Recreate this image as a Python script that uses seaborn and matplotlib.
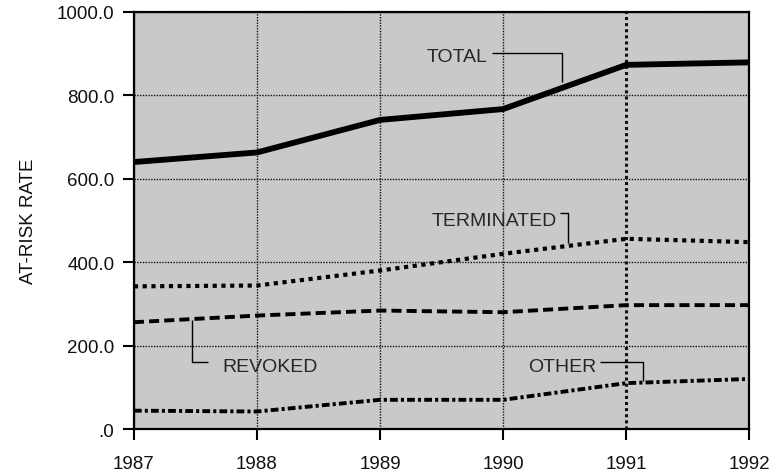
import matplotlib
matplotlib.use("Agg")
import matplotlib.pyplot as plt
import seaborn as sns
import pandas as pd

# At-risk rate by year, per category
years = [1987, 1988, 1989, 1990, 1991, 1992]
total = [640, 663, 741, 767, 873, 879]
terminated = [342, 344, 380, 420, 456, 448]
revoked = [256, 272, 284, 280, 297, 297]
other = [44, 42, 70, 70, 110, 120]

y_ticks = [0, 200, 400, 600, 800, 1000]
y_tick_labels = [".0", "200.0", "400.0", "600.0", "800.0", "1000.0"]

df = pd.DataFrame({
    "year": years * 4,
    "rate": total + terminated + revoked + other,
    "series": ["TOTAL"] * 6 + ["TERMINATED"] * 6 + ["REVOKED"] * 6 + ["OTHER"] * 6,
})

sns.set_theme(style="ticks")
plt.rcParams["font.family"] = ["Liberation Sans", "DejaVu Sans"]

fig = plt.figure(figsize=(7.83, 4.77), dpi=100)
ax = fig.add_axes([0.171, 0.0985, 0.786, 0.8745])
ax.set_facecolor("#c9c9c9")

styles = {
    "TOTAL": dict(lw=4.2, ls="-"),
    "TERMINATED": dict(lw=3.0, ls=(0, (1.0, 1.1))),
    "REVOKED": dict(lw=2.8, ls=(0, (2.6, 1.3))),
    "OTHER": dict(lw=2.8, ls=(0, (2.0, 0.8, 0.8, 0.8))),
}
for name, st in styles.items():
    sub = df[df["series"] == name]
    sns.lineplot(data=sub, x="year", y="rate", ax=ax, color="black",
                 linewidth=st["lw"], linestyle=st["ls"], zorder=3,
                 solid_capstyle="butt", dash_capstyle="butt")

ax.set_xlim(1987, 1992)
ax.set_ylim(0, 1000)
ax.set_xticks(years)
ax.set_xticklabels([str(y) for y in years])
ax.set_yticks(y_ticks)
ax.set_yticklabels(y_tick_labels)
ax.set_xlabel("")
ax.set_ylabel("AT-RISK RATE", fontsize=13.5, labelpad=14, color="#111")

ax.grid(True, color="#111", linewidth=1.0, linestyle=(0, (1, 1)), zorder=1)
ax.set_axisbelow(True)
gl = ax.get_xgridlines()
if len(gl) > 4:
    gl[4].set_linewidth(2.2)

for sp in ax.spines.values():
    sp.set_color("black")
    sp.set_linewidth(1.6)

ax.tick_params(axis="y", length=8, width=1.5, pad=6, labelsize=13.5, colors="black")
ax.tick_params(axis="x", length=8, width=1.5, pad=11, labelsize=13.5, colors="black")
for lbl in ax.get_xticklabels() + ax.get_yticklabels():
    lbl.set_color("#111")

# Series labels with leader lines (data coordinates)
lead = dict(color="black", lw=1.0, zorder=4, solid_capstyle="butt")
fs = 14
ax.text(1989.38, 894, "TOTAL", fontsize=fs, ha="left", va="center", zorder=5)
ax.plot([1989.91, 1990.48, 1990.48], [902, 902, 832], **lead)

ax.text(1989.42, 499, "TERMINATED", fontsize=fs, ha="left", va="center", zorder=5)
ax.plot([1990.46, 1990.53, 1990.53], [518, 518, 445], **lead)

ax.text(1990.2, 149, "OTHER", fontsize=fs, ha="left", va="center", zorder=5)
ax.plot([1990.79, 1991.14, 1991.14], [161, 161, 115], **lead)

ax.text(1987.72, 149, "REVOKED", fontsize=fs, ha="left", va="center", zorder=5)
ax.plot([1987.47, 1987.47, 1987.6], [262, 161, 161], **lead)

fig.savefig("out.png", dpi=100)
